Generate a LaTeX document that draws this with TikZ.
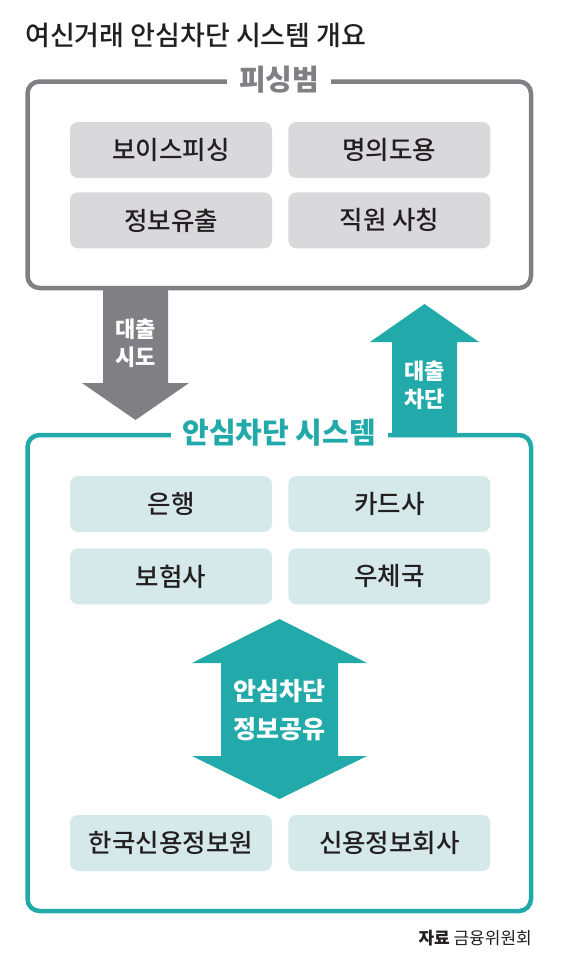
\documentclass[tikz,border=0pt]{standalone}
\usepackage{fontspec}
\setmainfont{Noto Sans CJK KR}
\newfontfamily\medfont{Noto Sans CJK KR Medium}
\usetikzlibrary{positioning}
\definecolor{framegray}{HTML}{808084}
\definecolor{boxgray}{HTML}{D9D9DB}
\definecolor{safeteal}{HTML}{22AAAA}
\definecolor{boxteal}{HTML}{D5E9EA}
\definecolor{ink}{HTML}{231F20}
\tikzset{
frame/.style={
	  draw, line width=4.5pt, rounded corners=12pt,
	    minimum width=503.5pt},
frametitle/.style={fill=white, inner xsep=12pt, inner ysep=2pt,
	font=\bfseries\fontsize{29}{29}\selectfont},
item/.style={rounded corners=8pt, minimum width=202pt, minimum height=56pt,
	text=ink, font=\medfont\fontsize{25.5}{25.5}\selectfont},
arrowtext/.style={text=white, align=center}
}

\begin{document}
\begin{tikzpicture}[x=1pt, y=-1pt]
	\useasboundingbox (0,0) rectangle (562,970);
	\node[anchor=base west, inner sep=0pt, text=ink,
		font=\medfont\fontsize{27}{27}\selectfont] (title) at (25,45) {여신거래 안심차단 시스템 개요};

	% phishing frame
	\node[frame, draw=framegray, minimum height=206.5pt] (crime) at (279.25,184.75) {};
	\node[frametitle, text=framegray] (crimetitle) at (crime.north) {피싱범};
	\node[item, fill=boxgray] (voice) at (171,150) {보이스피싱};
	\node[item, fill=boxgray, right=16pt of voice] (identity) {명의도용};
	\node[item, fill=boxgray, below=14pt of voice] (leak) {정보유출};
	\node[item, fill=boxgray, right=16pt of leak] (staff) {직원 사칭};

	% shield frame
	\node[frame, draw=safeteal, minimum height=476pt] (shield) at (279.25,673) {};
	\node[frametitle, text=safeteal] (shieldtitle) at (shield.north) {안심차단 시스템};
	\node[item, fill=boxteal] (bank) at (171,504) {은행};
	\node[item, fill=boxteal, right=16pt of bank] (card) {카드사};
	\node[item, fill=boxteal, below=16pt of bank] (insure) {보험사};
	\node[item, fill=boxteal, right=16pt of insure] (post) {우체국};
	\node[item, fill=boxteal] (kcis) at (171,843) {한국신용정보원};
	\node[item, fill=boxteal, right=16pt of kcis] (cb) {신용정보회사};

	% block arrows
	\fill[framegray] (103,288) -- (168,288) -- (168,383) -- (189,383)
		-- (135.5,420) -- (82,383) -- (103,383) -- cycle;
	\node[arrowtext, font=\bfseries\fontsize{22}{28}\selectfont] (attempt) at (135.5,343) {대출\\시도};

	\fill[safeteal] (392,437) -- (392,342) -- (370,342) -- (424.5,304)
		-- (479,342) -- (457,342) -- (457,437) -- cycle;
	\node[arrowtext, font=\bfseries\fontsize{22}{28}\selectfont] (block) at (424.5,385) {대출\\차단};

	\fill[safeteal] (279.5,619) -- (367,663) -- (338,663) -- (338,756)
		-- (367,756) -- (279.5,799) -- (192,756) -- (221,756)
		-- (221,663) -- (192,663) -- cycle;
	\node[arrowtext, font=\bfseries\fontsize{25}{38}\selectfont] (share) at (279.5,710) {안심차단\\정보공유};

	\node[anchor=base east, inner sep=0pt, text=ink,
		font=\fontsize{17}{17}\selectfont] (source) at (532,944) {\textbf{자료} 금융위원회};
\end{tikzpicture}
\end{document}
